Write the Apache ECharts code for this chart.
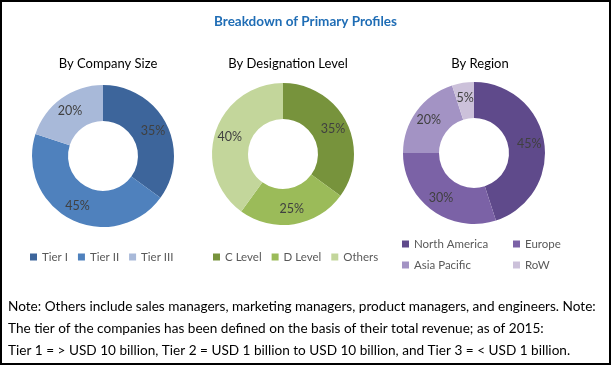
<!DOCTYPE html>
<html><head><meta charset="utf-8">
<script src="https://cdn.jsdelivr.net/npm/echarts@6/dist/echarts.min.js"></script>
<style>html,body{margin:0;padding:0;background:#fff}#c{width:611px;height:365px}</style>
</head><body><div id="c"></div>
<script>
const companySizeCats = ['Tier I', 'Tier II', 'Tier III'];
const companySizeVals = [35, 45, 20];
const designationCats = ['C Level', 'D Level', 'Others'];
const designationVals = [35, 25, 40];
const regionCats = ['North America', 'Europe', 'Asia Pacific', 'RoW'];
const regionVals = [45, 30, 20, 5];
const chartTitle = 'Breakdown of Primary Profiles';
const subTitles = ['By Company Size', 'By Designation Level', 'By Region'];
const noteLines = [
  'Note: Others include sales managers, marketing managers, product managers, and engineers. Note:',
  'The tier of the companies has been defined on the basis of their total revenue; as of 2015:',
  'Tier 1 = > USD 10 billion, Tier 2 = USD 1 billion to USD 10 billion, and Tier 3 = < USD 1 billion.'
];

const font = 'Lato';
const blue = ['#3D659B', '#4F81BD', '#A8B9D9'];
const green = ['#77933C', '#9BBB59', '#C3D69B'];
const purple = ['#5F4A8B', '#7B62A6', '#A393C4', '#CCC1DA'];

function mk(cats, vals, colors) {
  return cats.map((n, i) => ({ name: n, value: vals[i], itemStyle: { color: colors[i] } }));
}
function pie(center, data) {
  return {
    type: 'pie', center: center, radius: [35, 71], startAngle: 90, clockwise: true,
    data: data, silent: true,
    label: { position: 'inside', formatter: '{c}%', color: '#404040', fontFamily: font, fontSize: 12.5 },
    labelLine: { show: false },
    itemStyle: { borderColor: '#fff', borderWidth: 0 }
  };
}
const legText = { color: '#595959', fontFamily: font, fontSize: 11.5 };
const legBase = { itemWidth: 7, itemHeight: 7, icon: 'rect', textStyle: legText, selectedMode: false, padding: 0 };
const option = {
  backgroundColor: '#fff',
  animation: false,
  title: [
    { text: chartTitle, left: 'center', top: 10, textStyle: { color: '#1F6DB5', fontFamily: font, fontWeight: 'bold', fontSize: 13.5 } },
    { text: subTitles[0], left: 103, top: 52, textAlign: 'center', textStyle: { color: '#000', fontFamily: font, fontWeight: 'normal', fontSize: 13 } },
    { text: subTitles[1], left: 283, top: 52, textAlign: 'center', textStyle: { color: '#000', fontFamily: font, fontWeight: 'normal', fontSize: 13 } },
    { text: subTitles[2], left: 475, top: 52, textAlign: 'center', textStyle: { color: '#000', fontFamily: font, fontWeight: 'normal', fontSize: 13 } }
  ],
  legend: [
    Object.assign({ data: companySizeCats, left: 30, top: 251, itemGap: 10 }, legBase),
    Object.assign({ data: designationCats, left: 213, top: 251, itemGap: 10 }, legBase),
    Object.assign({ data: [regionCats[0], regionCats[2]], left: 402, top: 238, orient: 'vertical', itemGap: 9 }, legBase),
    Object.assign({ data: [regionCats[1], regionCats[3]], left: 513, top: 238, orient: 'vertical', itemGap: 9 }, legBase)
  ],
  series: [
    pie([103, 156], mk(companySizeCats, companySizeVals, blue)),
    pie([283, 154], mk(designationCats, designationVals, green)),
    pie([474, 153], mk(regionCats, regionVals, purple))
  ],
  graphic: [
    { type: 'rect', shape: { x: 1, y: 1, width: 609, height: 363 }, style: { fill: 'none', stroke: '#000', lineWidth: 2 }, silent: true },
    ...noteLines.map((t, i) => ({ type: 'text', left: 8, top: 300 + i * 22, silent: true,
      style: { text: t, fill: '#000', font: '13.6px ' + font } }))
  ]
};
const ch = echarts.init(document.getElementById('c'), null, { renderer: 'canvas' });
ch.setOption(option);
</script></body></html>
